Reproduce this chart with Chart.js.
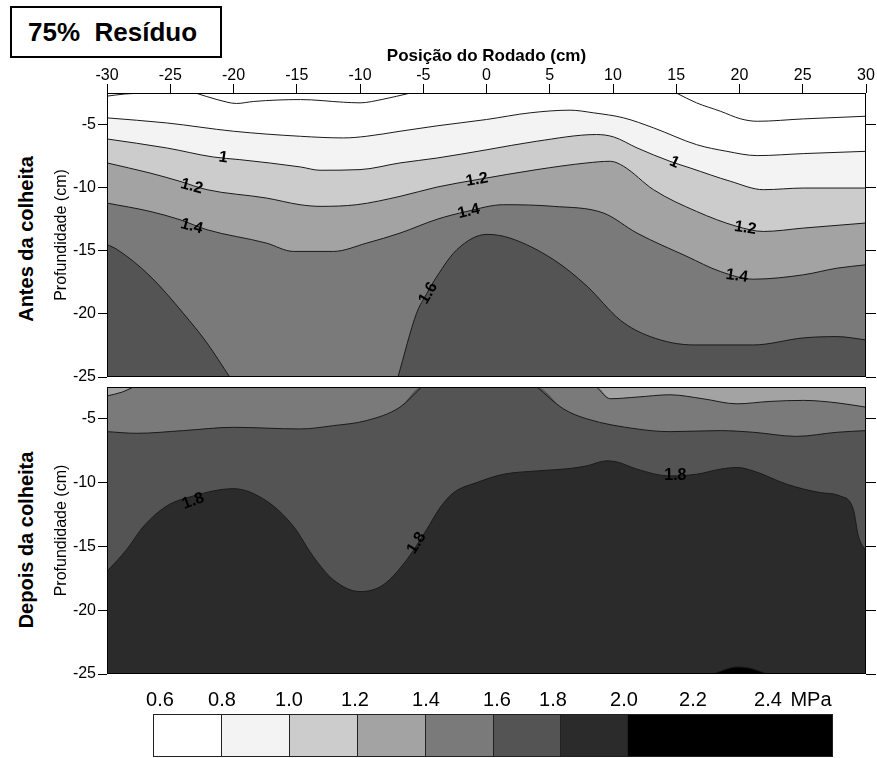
<!DOCTYPE html>
<html>
<head>
<meta charset="utf-8">
<script src="https://cdn.jsdelivr.net/npm/chart.js@4/dist/chart.umd.min.js"></script>
<style>
  html, body { margin: 0; padding: 0; background: #fff; }
  #wrap { position: relative; width: 877px; height: 758px; overflow: hidden; font-family: "Liberation Sans", Arial, sans-serif; }
  #titleBox { position: absolute; left: 10px; top: 6px; width: 212px; height: 52px; border: 2px solid #000; box-sizing: border-box;
    font: bold 26px "Liberation Sans", Arial, sans-serif; line-height: 48px; padding-left: 16px; white-space: pre; }
  .side { position: absolute; font: bold 20px "Liberation Sans", Arial, sans-serif; white-space: nowrap;
    transform: translate(-50%, -50%) rotate(-90deg); }
  canvas { position: absolute; left: 0; }
  #c1 { top: 0; }
  #c2 { top: 380px; }
  .lgBox { position: absolute; top: 714px; height: 43px; box-sizing: border-box; border: 1px solid #222; }
  .lgLab { position: absolute; top: 688px; font: 20px "Liberation Sans", Arial, sans-serif; transform: translateX(-50%); white-space: nowrap; }
</style>
</head>
<body>
<div id="wrap">
  <div id="titleBox">75%  Resíduo</div>
  <div class="side" style="left:26px; top:239px;">Antes da colheita</div>
  <div class="side" style="left:26px; top:540px;">Depois da colheita</div>
  <canvas id="c1" width="877" height="392"></canvas>
  <canvas id="c2" width="877" height="310"></canvas>
  <div id="legend"></div>
</div>
<script>
// ---------------- data ----------------
const xTicks = [-30, -25, -20, -15, -10, -5, 0, 5, 10, 15, 20, 25, 30];
const yTicks = [-25, -20, -15, -10, -5];
const xTitle = 'Posição do Rodado (cm)';
const yTitle = 'Profundidade (cm)';

// legend (MPa classes)
const legendLabels = ['0.6', '0.8', '1.0', '1.2', '1.4', '1.6', '1.8', '2.0', '2.2', '2.4'];
const legendUnit = 'MPa';
const bandColors = ['#ffffff', '#f3f3f3', '#cccccc', '#a3a3a3', '#7a7a7a', '#545454', '#2b2b2b', '#000000'];

// "Antes da colheita" contour lines [x (cm), depth (cm)]
const antes06a = [[-30, -2.75], [-28.6, -2.58], [-27, -2.5]];
const antes06b = [[-23, -2.5], [-21.3, -3.02], [-19.75, -3.33], [-18.4, -3.17], [-14.7, -3.02], [-11.3, -3.23], [-10, -3.28], [-8.2, -3.0], [-6, -2.5]];
const antes06c = [[15, -2.5], [16.6, -3.28], [18.48, -3.94], [20.1, -4.55], [21.4, -4.74], [25.07, -4.55], [30, -4.34]];
const antes08 = [[-30, -4.47], [-25.3, -4.87], [-20, -5.53], [-14.7, -5.93], [-11.3, -6.06], [-9.5, -5.93], [-6.84, -5.53], [-3.9, -5.1], [0, -4.6], [3.45, -4.07], [6.6, -3.86], [8.46, -4.07], [10.84, -4.47], [13.2, -5.26], [16.6, -6.59], [19.0, -7.12], [21.4, -7.46], [25.07, -7.3], [30, -7.12]];
const antes10 = [[-30, -6.14], [-25.3, -6.85], [-21.6, -7.57], [-19.5, -7.78], [-14.7, -8.36], [-13.16, -8.62], [-10, -8.57], [-6.84, -8.04], [-3.9, -7.65], [0, -7.0], [3.98, -6.32], [8.7, -5.79], [10.05, -5.98], [11.9, -6.85], [14.5, -7.91], [16.1, -8.44], [19.3, -9.5], [21.9, -10.16], [25.07, -10.03], [30, -10.03]];
const antes12 = [[-30, -8.04], [-26.6, -8.84], [-24.23, -9.5], [-22.1, -10.16], [-17.4, -10.82], [-14.74, -11.35], [-13.16, -11.48], [-10.26, -11.35], [-6.84, -10.69], [-3.9, -9.95], [-0.76, -9.37], [3.98, -8.57], [7.94, -8.04], [9.79, -7.91], [10.84, -8.31], [13.2, -10.16], [16.6, -11.88], [19.8, -13.07], [21.9, -13.47], [25.07, -13.2], [30, -12.8]];
const antes14 = [[-30, -11.22], [-26.6, -11.88], [-24.23, -12.54], [-22.1, -13.33], [-17.4, -14.39], [-15.27, -15.05], [-12.1, -15.05], [-9.47, -14.39], [-6.84, -13.6], [-3.9, -12.5], [-1.55, -11.88], [1.35, -11.35], [5.3, -11.48], [9.25, -12.01], [11.9, -13.6], [15.85, -15.45], [18.48, -16.64], [21.1, -17.25], [25.07, -16.9], [27.7, -16.38], [30, -16.11]];
const antes16a = [[-30, -14.5], [-29.2, -14.9], [-26.6, -17.0], [-23.97, -19.95], [-22.1, -22.3], [-20.3, -25]];
const antes16b = [[-7.0, -25], [-5.53, -19.95], [-4.73, -18.4], [-3.9, -17.0], [-2.33, -14.9], [0.04, -13.7], [1.87, -14.0], [5.3, -15.7], [7.94, -17.8], [10.58, -20.5], [12.95, -21.8], [16.4, -22.46], [21.1, -22.46], [25.07, -21.9], [27.7, -21.8], [30, -22.06]];
const antesLabels = [['1', -20.8, -7.62, 8], ['1.2', -23.3, -9.9, 15], ['1.4', -23.3, -13.07, 15], ['1.6', -4.6, -18.36, -60],
  ['1.2', -0.75, -9.37, -10], ['1.4', -1.4, -11.88, -13], ['1', 14.85, -7.99, 25], ['1.2', 20.46, -13.2, 9], ['1.4', 19.8, -17.0, 8]];

// "Depois da colheita" contour lines
const depois14a = [[-30, -3.2], [-28.8, -2.9], [-27.9, -2.5]];
const depois14b = [[8.7, -2.5], [9.79, -3.42], [11.9, -3.29], [14.5, -3.11], [17.1, -3.42], [19.8, -3.82], [22.4, -3.63], [25.07, -3.55], [27.7, -3.74], [30, -4.08]];
const depois16a = [[-30, -6.0], [-27.65, -6.13], [-23.97, -5.92], [-20, -5.66], [-14.74, -5.79], [-12.1, -5.53], [-9.47, -5.13], [-6.84, -4.08], [-5.12, -2.5]];
const depois16b = [[3.98, -2.5], [6.07, -4.21], [7.94, -5.0], [11.9, -5.79], [14.5, -6.0], [18.48, -5.92], [21.1, -6.05], [24.5, -6.37], [27.7, -6.05], [30, -5.92]];
const depois18 = [[-30, -16.96], [-28.45, -15.25], [-27.1, -13.41], [-25.3, -11.84], [-23.2, -11.05], [-20, -10.47], [-17.38, -11.44], [-15.27, -13.41], [-13.7, -15.78], [-12.1, -17.62], [-10, -18.54], [-8.16, -18.01], [-6.3, -16.04], [-4.73, -13.68], [-3.68, -11.97], [-2.6, -10.78], [-0.76, -9.99], [1.35, -9.34], [3.98, -9.08], [6.6, -8.89], [7.94, -8.68], [9.5, -8.29], [10.3, -8.37], [11.9, -8.94], [14.5, -9.47], [16.6, -9.34], [18.48, -8.94], [19.8, -8.81], [21.1, -9.08], [23.76, -10.13], [26.4, -10.78], [27.97, -11.05], [29.0, -12.1], [29.4, -14.2], [30, -15.38]];
const depois20 = [[17.95, -25], [19.0, -24.6], [19.8, -24.45], [20.85, -24.55], [22.2, -25]];
const depoisLabels = [['1.8', -23.18, -11.44, -20], ['1.8', -5.52, -14.73, -58], ['1.8', 14.93, -9.47, 0]];

// ---------------- layout (kept apart from data) ----------------
const legendEdges = [153, 221, 289, 357, 425, 493, 560, 627, 832];
const legendLabelX = [160, 222, 289, 355, 426, 497, 553, 624, 693, 768];
const legendUnitX = 811;

// ---------------- helpers ----------------
const FONT = '"Liberation Sans", Arial, sans-serif';
Chart.defaults.font.family = FONT;
Chart.defaults.color = '#000';
const LINE = '#1a1a1a';

const pts = a => a.map(([x, y]) => ({ x, y }));
function contour(a, fillColor) {
  return { data: pts(a), borderColor: LINE, borderWidth: 1, pointRadius: 0, cubicInterpolationMode: 'monotone',
    fill: fillColor ? 'start' : false, backgroundColor: fillColor || 'transparent' };
}
function fillOnly(a, fillColor) {
  return { data: pts(a), borderColor: 'transparent', borderWidth: 0, pointRadius: 0, cubicInterpolationMode: 'monotone',
    fill: 'start', backgroundColor: fillColor };
}

function decorPlugin(bg, labels) {
  return {
    id: 'decor',
    beforeDraw(chart) {
      if (!bg) return;
      const { ctx, chartArea: a } = chart;
      ctx.save(); ctx.fillStyle = bg; ctx.fillRect(a.left, a.top, a.right - a.left, a.bottom - a.top); ctx.restore();
    },
    afterDatasetsDraw(chart) {
      const { ctx, chartArea: a, scales } = chart;
      ctx.save();
      ctx.font = 'bold 16px ' + FONT;
      ctx.textAlign = 'center'; ctx.textBaseline = 'middle'; ctx.fillStyle = '#000';
      labels.forEach(([t, x, y, ang]) => {
        const px = scales.x.getPixelForValue(x), py = scales.y.getPixelForValue(y);
        ctx.save(); ctx.translate(px, py); ctx.rotate(ang * Math.PI / 180); ctx.fillText(t, 0, 0); ctx.restore();
      });
      ctx.strokeStyle = '#000'; ctx.lineWidth = 1;
      ctx.strokeRect(Math.round(a.left) + 0.5, Math.round(a.top) + 0.5, Math.round(a.right - a.left) - 1, Math.round(a.bottom - a.top) - 1);
      ctx.restore();
    }
  };
}

function tickSet(vals) { return s => { s.ticks = vals.map(v => ({ value: v })); }; }

function yAxes() {
  return {
    y: { type: 'linear', position: 'left', min: -25, max: -2.5,
      afterBuildTicks: tickSet(yTicks),
      afterFit: s => { s.width = 107; s.paddingTop = 0; s.paddingBottom = 0; },
      ticks: { font: { size: 16 }, padding: 2, color: '#000', callback: v => String(v) },
      grid: { drawOnChartArea: false, drawTicks: true, tickLength: 9, color: '#000' },
      border: { display: false },
      title: { display: true, text: yTitle, color: '#000', font: { size: 16 }, padding: { top: 52, bottom: 0 } } },
    y2: { type: 'linear', position: 'right', min: -25, max: -2.5,
      afterBuildTicks: tickSet(yTicks),
      afterFit: s => { s.width = 10; s.paddingTop = 0; s.paddingBottom = 0; },
      ticks: { display: false },
      grid: { drawOnChartArea: false, drawTicks: true, tickLength: 10, color: '#000' },
      border: { display: false } }
  };
}

const common = {
  responsive: false, animation: false, events: [],
  plugins: { legend: { display: false }, tooltip: { enabled: false }, filler: { drawTime: 'beforeDatasetsDraw' } },
  elements: { line: { tension: 0 } }
};

// ---------------- top chart: Antes da colheita ----------------
new Chart(document.getElementById('c1'), {
  type: 'line',
  data: { datasets: [
    contour(antes16b, bandColors[5]),
    contour(antes16a, bandColors[5]),
    contour(antes14, bandColors[4]),
    contour(antes12, bandColors[3]),
    contour(antes10, bandColors[2]),
    contour(antes08, bandColors[1]),
    contour(antes06a), contour(antes06b), contour(antes06c)
  ] },
  options: Object.assign({}, common, {
    layout: { padding: { left: 0, right: 1, top: 0, bottom: 15 } },
    scales: Object.assign({
      x: { type: 'linear', position: 'top', min: -30, max: 30,
        afterBuildTicks: tickSet(xTicks),
        afterFit: s => { s.height = 93; s.paddingLeft = 0; s.paddingRight = 0; },
        ticks: { font: { size: 16, lineHeight: 1 }, padding: 0, color: '#000', maxRotation: 0, autoSkip: false, callback: v => String(v) },
        grid: { drawOnChartArea: false, drawTicks: true, tickLength: 9, color: '#000' },
        border: { display: false },
        title: { display: true, text: xTitle, color: '#000', font: { size: 17, weight: 'bold' }, padding: { top: 46, bottom: 0 } } }
    }, yAxes())
  }),
  plugins: [decorPlugin(null, antesLabels)]
});

// ---------------- bottom chart: Depois da colheita ----------------
new Chart(document.getElementById('c2'), {
  type: 'line',
  data: { datasets: [
    contour(depois20, bandColors[7]),
    contour(depois18, bandColors[6]),
    fillOnly(depois16a.concat(depois16b), bandColors[5]),
    fillOnly(depois14a.concat(depois14b), bandColors[4]),
    contour(depois16a), contour(depois16b), contour(depois14a), contour(depois14b)
  ] },
  options: Object.assign({}, common, {
    layout: { padding: { left: 0, right: 1, top: 7, bottom: 16 } },
    scales: Object.assign({
      x: { type: 'linear', min: -30, max: 30, display: false }
    }, yAxes())
  }),
  plugins: [decorPlugin(bandColors[3], depoisLabels)]
});

// ---------------- colour legend ----------------
const lg = document.getElementById('legend');
for (let i = 0; i < bandColors.length; i++) {
  const d = document.createElement('div');
  d.className = 'lgBox';
  d.style.left = legendEdges[i] + 'px';
  d.style.width = (legendEdges[i + 1] - legendEdges[i] + 1) + 'px';
  d.style.background = bandColors[i];
  lg.appendChild(d);
}
legendLabels.forEach((t, i) => {
  const s = document.createElement('div');
  s.className = 'lgLab'; s.textContent = t; s.style.left = legendLabelX[i] + 'px';
  lg.appendChild(s);
});
const u = document.createElement('div');
u.className = 'lgLab'; u.textContent = legendUnit; u.style.left = legendUnitX + 'px';
lg.appendChild(u);
</script>
</body>
</html>
